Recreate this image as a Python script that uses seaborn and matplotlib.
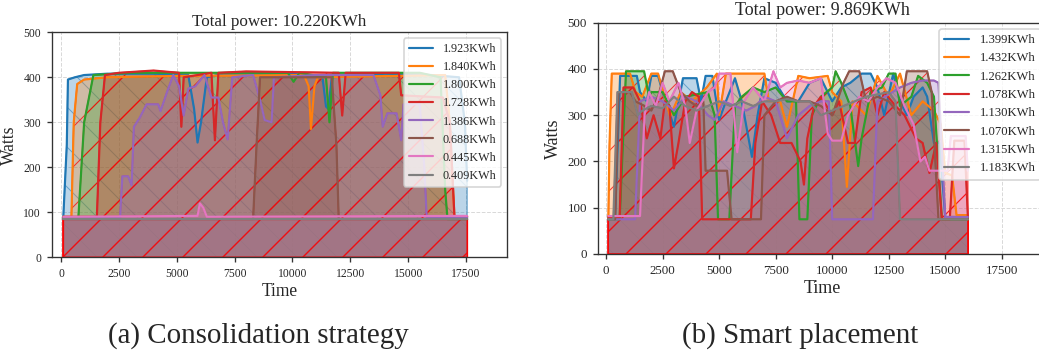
import pandas as pd
import matplotlib.pyplot as plt
import matplotlib.colors as mcolors
import seaborn as sns

# ---- (a) Consolidation strategy: (time s, watts) per server ----
cons_s1 = [(100, 90), (250, 250), (300, 395), (600, 400), (1000, 405), (2000, 408),
           (4000, 408), (5500, 405), (5750, 330), (5900, 255), (6050, 300), (6300, 400),
           (7000, 408), (10000, 408), (11300, 400), (11450, 335), (11550, 330), (11700, 400),
           (14000, 408), (16000, 405), (17200, 400), (17450, 300), (17550, 170)]
cons_s2 = [(100, 90), (450, 90), (550, 300), (700, 385), (1000, 395), (2000, 400),
           (5000, 403), (10500, 405), (10700, 380), (10800, 285), (10950, 380), (11100, 400),
           (16600, 405), (16800, 300), (17000, 90), (17550, 90)]
cons_s3 = [(100, 88), (750, 88), (1000, 300), (1400, 405), (3000, 410), (9800, 410),
           (10050, 390), (10300, 410), (11450, 400), (11600, 300), (11750, 410), (15500, 410),
           (16400, 400), (16600, 150), (16700, 85), (17550, 85)]
cons_s4 = [(100, 90), (1550, 90), (1700, 300), (1900, 405), (2500, 410), (4000, 415),
           (5100, 410), (5200, 290), (5300, 400), (6500, 410), (6650, 260), (6800, 410),
           (8000, 413), (12000, 410), (12150, 315), (12300, 410), (14600, 410), (14700, 360),
           (16500, 355), (16800, 300), (17000, 90), (17550, 90)]
cons_s5 = [(100, 88), (2550, 88), (2650, 180), (2900, 180), (3050, 160), (3150, 290),
           (3400, 310), (3700, 340), (4200, 340), (4300, 325), (4600, 370), (4850, 405),
           (5100, 380), (5300, 315), (5500, 375), (5800, 380), (6200, 405), (6500, 355),
           (6800, 355), (7000, 300), (7200, 262), (7400, 400), (8300, 405), (8600, 350),
           (8800, 305), (9100, 300), (9200, 400), (11000, 405), (13500, 405), (13800, 360),
           (13900, 290), (14100, 320), (14500, 320), (14700, 260), (14800, 340), (15500, 340),
           (15700, 200), (15800, 90), (17550, 88)]
cons_s6 = [(100, 85), (8300, 85), (8450, 250), (8600, 400), (11700, 400), (11900, 250),
           (12000, 85), (17550, 85)]
cons_s7 = [(100, 90), (5900, 92), (6000, 120), (6150, 110), (6300, 90), (17550, 92)]
cons_s8 = [(100, 85), (17550, 85)]
cons_traces = [cons_s1, cons_s2, cons_s3, cons_s4, cons_s5, cons_s6, cons_s7, cons_s8]
cons_labels = ['1.923KWh', '1.840KWh', '1.800KWh', '1.728KWh',
               '1.386KWh', '0.688KWh', '0.445KWh', '0.409KWh']

# ---- (b) Smart placement ----
smart_s1 = [(100, 80), (400, 80), (620, 385), (1360, 385), (1500, 350), (1800, 330),
            (2000, 385), (2300, 385), (2500, 350), (3000, 275), (3400, 380), (4000, 380),
            (4200, 330), (4400, 385), (4700, 385), (5000, 290), (5300, 330), (5700, 380),
            (6000, 330), (6450, 210), (6700, 300), (7000, 380), (7500, 370), (8000, 330),
            (8500, 330), (9000, 370), (9500, 380), (10000, 330), (10400, 360), (10800, 370),
            (11300, 390), (11700, 390), (12000, 360), (12300, 300), (12700, 390), (13000, 330),
            (13300, 300), (13600, 340), (14000, 360), (14200, 340), (14500, 240), (14750, 240),
            (15000, 80), (16000, 80)]
smart_s2 = [(100, 80), (150, 235), (250, 390), (1060, 390), (1300, 350), (1600, 340),
            (2000, 390), (2300, 390), (2830, 297), (3300, 350), (3800, 330), (4450, 360),
            (4900, 390), (5000, 300), (5300, 390), (5600, 390), (6000, 390), (7000, 390),
            (7200, 330), (7700, 330), (8000, 275), (8500, 385), (9000, 380), (9800, 385),
            (10000, 350), (10400, 330), (10650, 145), (10900, 330), (11500, 300), (12000, 385),
            (12500, 340), (13000, 390), (13500, 300), (14000, 330), (14500, 310), (14800, 280),
            (15000, 175), (15300, 170), (15500, 84), (16000, 84)]
smart_s3 = [(100, 75), (600, 75), (880, 395), (1680, 395), (1900, 340), (2000, 350),
            (2500, 350), (3000, 300), (3500, 340), (4000, 345), (4500, 350), (4800, 300),
            (4950, 75), (5450, 75), (5700, 320), (6000, 340), (6500, 360), (7000, 350),
            (7500, 360), (8000, 330), (8400, 330), (8550, 75), (8900, 75), (9100, 300),
            (9500, 340), (10000, 360), (10150, 395), (10400, 370), (10800, 320), (11150, 190),
            (11300, 250), (11700, 350), (12200, 360), (12500, 390), (12800, 390), (13000, 320),
            (13500, 340), (13800, 385), (14200, 370), (14500, 340), (14850, 75), (16000, 75)]
smart_s4 = [(100, 80), (600, 80), (770, 360), (1200, 360), (1500, 330), (1800, 250),
            (2100, 300), (2400, 250), (2600, 330), (2800, 320), (3000, 185), (3200, 240),
            (3500, 330), (3800, 350), (4100, 340), (4250, 75), (6400, 75), (6600, 240),
            (6900, 330), (7300, 300), (7700, 240), (8200, 240), (8600, 200), (8750, 150),
            (8900, 250), (9200, 320), (9500, 340), (10000, 300), (10300, 330), (10700, 240),
            (11000, 240), (11300, 350), (11700, 360), (12000, 300), (12300, 350), (12800, 320),
            (13200, 300), (13700, 250), (14000, 240), (14300, 175), (14600, 240), (14850, 75),
            (15200, 75), (15400, 245), (15850, 245), (16000, 80)]
smart_s5 = [(100, 75), (1280, 75), (1500, 330), (2000, 340), (2500, 330), (3000, 310),
            (3500, 340), (4000, 330), (4500, 300), (4800, 290), (5200, 330), (5700, 320),
            (6200, 310), (6600, 320), (7000, 340), (7500, 330), (8000, 250), (8500, 300),
            (9000, 320), (9500, 330), (9850, 330), (10000, 75), (11800, 75), (12000, 330),
            (13000, 360), (13500, 370), (14000, 375), (14500, 375), (14700, 370), (15000, 80),
            (16000, 80)]
smart_s6 = [(100, 75), (400, 75), (550, 350), (1060, 350), (1300, 330), (1700, 320),
            (2000, 310), (2300, 340), (2600, 395), (2950, 395), (3300, 350), (3700, 330),
            (4000, 320), (4300, 330), (4400, 180), (5350, 180), (5550, 75), (6850, 75),
            (7000, 300), (7500, 330), (8000, 340), (8500, 330), (9000, 330), (9500, 320),
            (10000, 300), (10500, 370), (10750, 395), (11200, 395), (11500, 330), (12000, 340),
            (12500, 330), (13000, 300), (13300, 395), (14200, 395), (14400, 350), (14700, 75),
            (16000, 75)]
smart_s7 = [(100, 82), (1500, 82), (1700, 300), (1900, 350), (2200, 320), (2500, 370),
            (2800, 330), (3200, 370), (3500, 320), (3700, 240), (4000, 310), (4500, 350),
            (4800, 360), (5000, 390), (5500, 390), (5800, 220), (6100, 330), (6500, 360),
            (7000, 330), (7400, 395), (7700, 360), (8000, 370), (8500, 375), (9000, 370),
            (9500, 380), (9800, 260), (10000, 245), (10400, 245), (10700, 300), (11200, 340),
            (11600, 330), (12000, 360), (12400, 380), (12800, 370), (13200, 320), (13600, 280),
            (13900, 200), (14100, 210), (14300, 180), (15100, 180), (15250, 255), (15900, 255),
            (16000, 180)]
smart_s8 = [(100, 75), (320, 75), (500, 350), (1140, 350), (1400, 300), (1600, 310),
            (2000, 320), (2500, 315), (3000, 340), (3500, 320), (4000, 310), (4500, 320),
            (5000, 330), (5500, 320), (6000, 330), (6500, 320), (7000, 330), (7500, 330),
            (8000, 335), (8500, 330), (9000, 330), (9500, 300), (10000, 310), (10500, 320),
            (11000, 330), (11500, 340), (12000, 345), (12500, 350), (12800, 330), (13000, 75),
            (16000, 75)]
smart_traces = [smart_s1, smart_s2, smart_s3, smart_s4, smart_s5, smart_s6, smart_s7, smart_s8]
smart_labels = ['1.399KWh', '1.432KWh', '1.262KWh', '1.078KWh',
                '1.130KWh', '1.070KWh', '1.315KWh', '1.183KWh']


def to_frame(traces, labels):
    rows = []
    for pts, lab in zip(traces, labels):
        for t, w in pts:
            rows.append({'Time': t, 'Watts': w, 'server': lab})
    return pd.DataFrame(rows)


def draw_panel(ax, traces, labels, title, xlim, fs, pad):
    df = to_frame(traces, labels)
    palette = sns.color_palette('tab10', len(labels))
    sns.lineplot(data=df, x='Time', y='Watts', hue='server', hue_order=labels,
                 palette=palette, estimator=None, sort=False, lw=1.3, ax=ax)
    # shaded + hatched area under every trace
    for i, lab in enumerate(labels):
        d = df[df.server == lab]
        if i == 0:
            hatch, edge = '\\', mcolors.to_rgba(palette[i], 0.55)
        else:
            hatch, edge = '/', mcolors.to_rgba('red', 0.75)
        ax.fill_between(d.Time, 0, d.Watts, facecolor=mcolors.to_rgba(palette[i], 0.3),
                        edgecolor=edge, hatch=hatch, linewidth=0.8, zorder=1)
    ax.set_xlim(*xlim)
    ax.set_ylim(0, 500)
    ax.set_xticks(range(0, 17501, 2500))
    ax.set_yticks(range(0, 501, 100))
    ax.set_title(title, fontsize=fs['title'], pad=pad)
    ax.set_xlabel('Time', fontsize=fs['label'], labelpad=2)
    ax.set_ylabel('Watts', fontsize=fs['label'], labelpad=3)
    ax.tick_params(labelsize=fs['tick'], length=3, width=0.8, color='0.2')
    for sp in ax.spines.values():
        sp.set_color('0.2')
        sp.set_linewidth(0.8)
    sns.move_legend(ax, 'upper right', title=None, fontsize=fs['legend'], frameon=True)


sns.set_style('whitegrid', {'axes.edgecolor': '0.2', 'grid.color': '0.85',
                            'grid.linestyle': '--', 'xtick.bottom': True, 'ytick.left': True})
plt.rcParams['font.family'] = ['Liberation Serif', 'DejaVu Serif']
plt.rcParams['hatch.linewidth'] = 0.6
plt.rcParams['grid.linewidth'] = 0.6

fig = plt.figure(figsize=(1039 / 120, 351 / 120), dpi=120)
ax1 = fig.add_axes([0.0498, 0.267, 0.4386, 0.641])
ax2 = fig.add_axes([0.5753, 0.2764, 0.4324, 0.6589])

draw_panel(ax1, cons_traces, cons_labels, 'Total power: 10.220KWh', (-400, 19290),
           {'title': 10.2, 'label': 10.5, 'tick': 7.0, 'legend': 7.3}, 3.8)
draw_panel(ax2, smart_traces, smart_labels, 'Total power: 9.869KWh', (-370, 19500),
           {'title': 10.8, 'label': 10.8, 'tick': 7.7, 'legend': 7.6}, 4.6)

fig.text(258 / 1039, 1 - 343 / 351, '(a) Consolidation strategy', ha='center',
         va='baseline', fontsize=17.4)
fig.text(800 / 1039, 1 - 343 / 351, '(b) Smart placement', ha='center',
         va='baseline', fontsize=17.4)

fig.savefig('out.png', dpi=120)
